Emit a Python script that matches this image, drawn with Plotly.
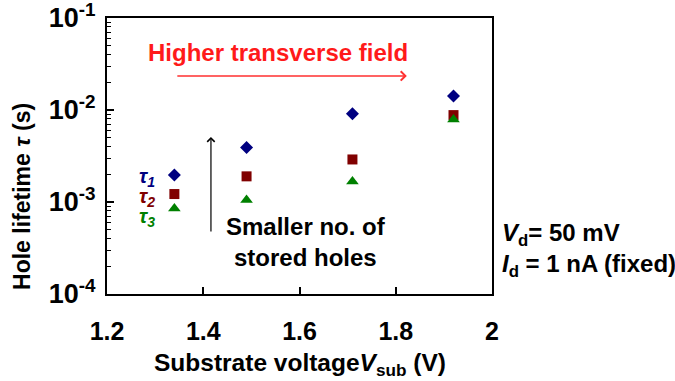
import plotly.graph_objects as go

# Hole lifetimes vs. substrate voltage
vsub = [1.34, 1.49, 1.71, 1.92]
tau1 = [1.96e-3, 3.9e-3, 9.1e-3, 1.42e-2]
tau2 = [1.22e-3, 1.9e-3, 2.9e-3, 8.8e-3]
tau3 = [8.5e-4, 1.05e-3, 1.67e-3, 7.9e-3]

y_major = [1e-4, 1e-3, 1e-2, 1e-1]
y_major_text = ["10<sup>-4</sup>", "10<sup>-3</sup>", "10<sup>-2</sup>", "10<sup>-1</sup>"]
x_ticks = [1.2, 1.4, 1.6, 1.8, 2.0]
x_tick_text = ["1.2", "1.4", "1.6", "1.8", "2"]

FONT = "Arial, Liberation Sans, sans-serif"
NAVY = "#000080"
MAROON = "#800000"
GREEN = "#008000"

y_minor = [m * d for d in (1e-4, 1e-3, 1e-2) for m in range(2, 10)]

fig = go.Figure()
fig.add_trace(go.Scatter(x=vsub, y=tau1, mode="markers",
                         marker=dict(symbol="diamond", size=10, color=NAVY)))
fig.add_trace(go.Scatter(x=vsub, y=tau2, mode="markers",
                         marker=dict(symbol="square", size=10, color=MAROON)))
fig.add_trace(go.Scatter(x=vsub, y=tau3, mode="markers",
                         marker=dict(symbol="triangle-up", size=11, color=GREEN)))

fig.update_layout(
    width=675, height=381,
    margin=dict(l=107, r=183, t=18, b=87),
    paper_bgcolor="white", plot_bgcolor="white",
    showlegend=False,
    font=dict(family=FONT, color="black"),
    xaxis=dict(
        range=[1.2, 2.0], tickvals=x_ticks, ticktext=x_tick_text,
        ticks="inside", ticklen=7, tickwidth=1.5, tickcolor="black",
        showline=True, linewidth=2, linecolor="black", mirror=True,
        showgrid=False, zeroline=False, automargin=False,
        tickfont=dict(size=25, family=FONT, weight="bold"),
        ticklabelstandoff=14, ticklabeloverflow="allow",
    ),
    yaxis=dict(
        type="log", range=[-4, -1], tickvals=y_major, ticktext=y_major_text,
        ticks="inside", ticklen=7, tickwidth=1.5, tickcolor="black",
        showline=True, linewidth=2, linecolor="black", mirror=True,
        showgrid=False, zeroline=False, automargin=False,
        tickfont=dict(size=27, family=FONT, weight="bold"),
        ticklabelstandoff=4, ticklabeloverflow="allow",
        minor=dict(tickvals=y_minor, ticks="inside", ticklen=4,
                   tickwidth=1, tickcolor="black", showgrid=False),
    ),
)

# axis titles
fig.add_annotation(x=-0.221, y=0.355, xref="paper", yref="paper", showarrow=False,
                   xanchor="center", yanchor="middle", textangle=-90,
                   text="<b>Hole lifetime <i>τ</i> (s)</b>",
                   font=dict(size=23, color="black", family=FONT))
fig.add_annotation(x=0.501, y=-0.257, xref="paper", yref="paper", showarrow=False,
                   xanchor="center", yanchor="middle",
                   text="<b>Substrate voltage<i>V</i><sub>sub</sub> (V)</b>",
                   font=dict(size=24.5, color="black", family=FONT))

# red arrow and label
fig.add_annotation(x=1.823, y=-1.63, ax=1.343, ay=-1.63, xref="x", yref="y",
                   axref="x", ayref="y", text="", showarrow=True,
                   arrowhead=4, arrowsize=1.2, arrowwidth=1.5, arrowcolor="#ff3030")
fig.add_annotation(x=1.555, y=-1.37, xref="x", yref="y", showarrow=False,
                   text="<b>Higher transverse field</b>",
                   font=dict(size=24, color="#ff1a1a", family=FONT))

# black vertical arrow and label
fig.add_annotation(x=1.416, y=-2.293, ax=1.416, ay=-3.337, xref="x", yref="y",
                   axref="x", ayref="y", text="", showarrow=True,
                   arrowhead=4, arrowsize=1.2, arrowwidth=1.2, arrowcolor="black")
fig.add_annotation(x=1.613, y=-3.435, xref="x", yref="y", showarrow=False,
                   text="<b>Smaller no. of<br>stored holes</b>",
                   font=dict(size=24, color="black", family=FONT), align="center")

# series labels
for lbl, ly, col in [("τ<sub>1</sub>", -2.739, NAVY),
                     ("τ<sub>2</sub>", -2.956, MAROON),
                     ("τ<sub>3</sub>", -3.173, GREEN)]:
    fig.add_annotation(x=1.283, y=ly, xref="x", yref="y", showarrow=False,
                       text="<b><i>" + lbl + "</i></b>",
                       font=dict(size=20, color=col, family=FONT))

# measurement conditions
fig.add_annotation(x=1.021, y=0.214, xref="paper", yref="paper", showarrow=False,
                   xanchor="left", yanchor="middle",
                   text="<b><i>V</i><sub>d</sub>= 50 mV</b>",
                   font=dict(size=24, color="black", family=FONT))
fig.add_annotation(x=1.021, y=0.105, xref="paper", yref="paper", showarrow=False,
                   xanchor="left", yanchor="middle",
                   text="<b><i>I</i><sub>d</sub> = 1 nA (fixed)</b>",
                   font=dict(size=24, color="black", family=FONT))

fig.write_html("out.html")
